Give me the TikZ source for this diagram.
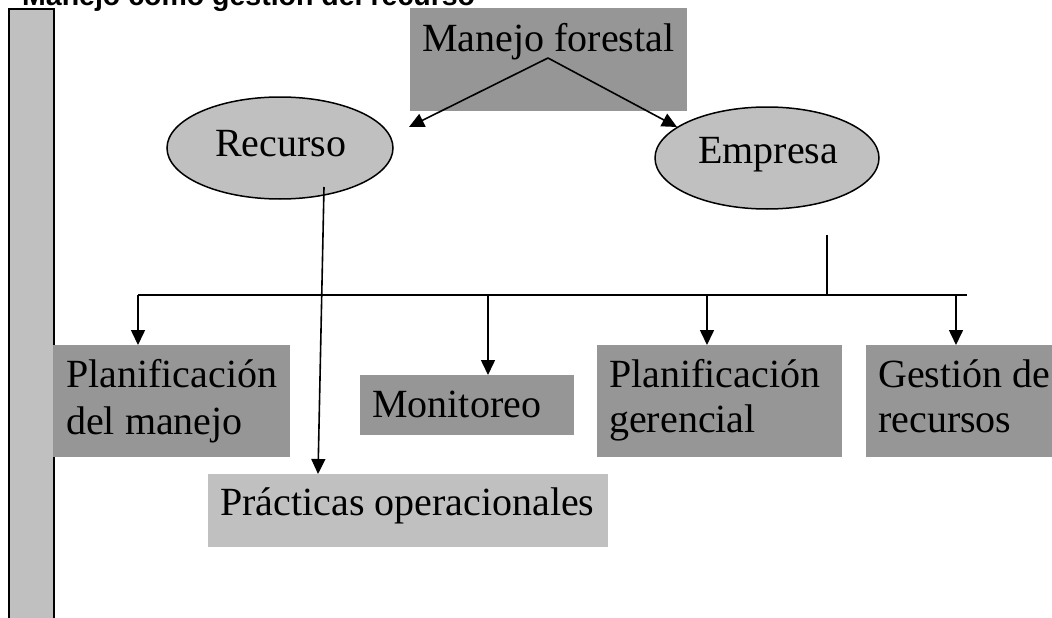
\documentclass[tikz,border=0pt]{standalone}
\usepackage{fontspec}
\setmainfont{Liberation Serif}
\newfontfamily\titlefont{Liberation Sans}
\usetikzlibrary{arrows.meta,shapes.geometric}
\definecolor{darkbox}{RGB}{150,150,150}
\definecolor{lightbox}{RGB}{192,192,192}
\begin{document}
\begin{tikzpicture}[x=1pt,y=-1pt,
  dbox/.style={fill=darkbox, draw=none, inner sep=0pt, anchor=north west},
  lbox/.style={fill=lightbox, draw=none, inner sep=0pt, anchor=north west},
  oval/.style={ellipse, fill=lightbox, draw=black, line width=1.5pt, inner sep=0pt},
  lbl/.style={anchor=base west, inner sep=0pt, font=\fontsize{40}{46}\selectfont},
  conn/.style={line width=1.6pt, -{Triangle[length=15pt,width=14pt]}},
  plainline/.style={line width=1.6pt}]
\useasboundingbox (0,0) rectangle (1052,618);
\clip (0,0) rectangle (1052,618);
% title (cut at top)
\node[anchor=base west, inner sep=0pt, font=\titlefont\bfseries\fontsize{28.5}{32}\selectfont] (title) at (22,5.5) {Manejo como gestión del recurso};
% left bar
\node[lbox, draw=black, line width=2pt, minimum width=45pt, minimum height=660pt] (bar) at (8,8) {};
% top box
\node[dbox, minimum width=277pt, minimum height=103pt] (mf) at (410,8) {};
\node[lbl] (tmf) at (422,52) {Manejo forestal};
% ellipses
\node[oval, minimum width=226pt, minimum height=102pt] (rec) at (280,148) {};
\node[lbl] (trec) at (215,156) {Recurso};
\node[oval, minimum width=224pt, minimum height=102pt] (emp) at (767,158) {};
\node[lbl] (temp) at (698,163) {Empresa};
% lower boxes
\node[dbox, minimum width=237pt, minimum height=112pt] (pm) at (53,345) {};
\node[lbl] (tpm1) at (66,387) {Planificación};
\node[lbl] (tpm2) at (66,434) {del manejo};
\node[dbox, minimum width=214pt, minimum height=60pt] (mo) at (360,375) {};
\node[lbl] (tmo) at (372,417) {Monitoreo};
\node[dbox, minimum width=245pt, minimum height=112pt] (pg) at (597,345) {};
\node[lbl] (tpg1) at (609,387) {Planificación};
\node[lbl] (tpg2) at (609,432) {gerencial};
\node[dbox, minimum width=200pt, minimum height=112pt] (gr) at (866,345) {};
\node[lbl] (tgr1) at (878,387) {Gestión de};
\node[lbl] (tgr2) at (878,432) {recursos};
\node[lbox, minimum width=400pt, minimum height=73pt] (pr) at (208,474) {};
\node[lbl] (tpr) at (220,515) {Prácticas operacionales};
% connectors from Manejo forestal
\coordinate (apex) at (548,58);
\coordinate (tipL) at (409,127);
\coordinate (tipR) at (677,127);
\draw[conn] (apex) -- (tipL);
\draw[conn] (apex) -- (tipR);
% Recurso to Practicas
\coordinate (rs) at (324,187);
\coordinate (re) at (318,474);
\draw[conn] (rs) -- (re);
% Empresa branch
\coordinate (es) at (827,235);
\coordinate (ej) at (827,295);
\coordinate (hl) at (138,295);
\coordinate (hr) at (967,295);
\draw[plainline] (es) -- (ej);
\draw[plainline] (hl) -- (hr);
\coordinate (b1) at (138,295);
\coordinate (b2) at (488,295);
\coordinate (b3) at (707,295);
\coordinate (b4) at (956,295);
\draw[conn] (b1) -- (b1 |- pm.north);
\draw[conn] (b2) -- (b2 |- mo.north);
\draw[conn] (b3) -- (b3 |- pg.north);
\draw[conn] (b4) -- (b4 |- gr.north);
\end{tikzpicture}
\end{document}
